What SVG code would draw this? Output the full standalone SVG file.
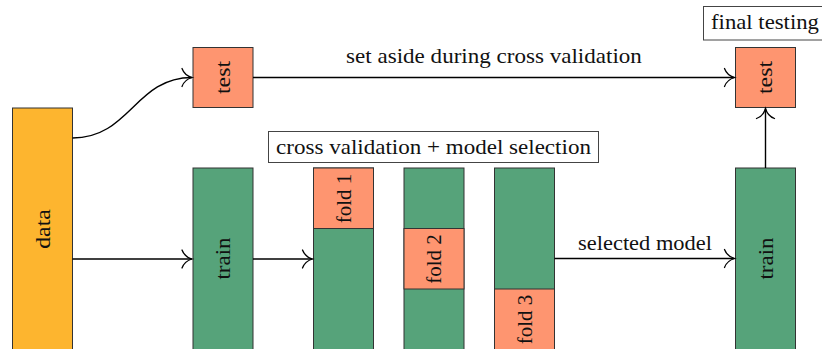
<svg xmlns="http://www.w3.org/2000/svg" width="822" height="349" viewBox="0 0 822 349">
  <defs>
    <!-- curved open arrow tip -->
    <marker id="to" markerUnits="userSpaceOnUse" markerWidth="24" markerHeight="24" viewBox="-14 -12 16 24" refX="0" refY="0" orient="auto">
      <path d="M -10 -9 C -8 -3.5 -3.5 -1 0 0 C -3.5 1 -8 3.5 -10 9" fill="none" stroke="#000" stroke-width="1.3" stroke-linecap="round"/>
    </marker>
  </defs>
  <style>
    .box { stroke: #333; stroke-width: 1; }
    .data { fill: #FDB52F; }
    .test { fill: #FE9570; }
    .train { fill: #56A37A; }
    .lbl { fill: #fff; stroke: #444; stroke-width: 1; }
    .edge { fill: none; stroke: #000; stroke-width: 1.4; marker-end: url(#to); }
    text { font-family: 'Liberation Serif', serif; font-size: 20px; fill: #111; }
    .mid { text-anchor: middle; }
  </style>

  <g id="data">
    <rect class="box data" x="12.5" y="108" width="60" height="242"/>
    <text class="mid" transform="translate(49.5 229) rotate(-90) scale(1.186 1)">data</text>
  </g>

  <g id="test-split">
    <rect class="box test" x="193" y="47.5" width="60" height="60"/>
    <text class="mid" transform="translate(229.5 77.5) rotate(-90) scale(1.188 1)">test</text>
  </g>

  <g id="train-split">
    <rect class="box train" x="193" y="168" width="60" height="182"/>
    <text class="mid" transform="translate(230 258.5) rotate(-90) scale(1.146 1)">train</text>
  </g>

  <g id="cv-label">
    <rect class="lbl" x="268.5" y="131.5" width="330" height="31"/>
    <text class="mid" transform="translate(433.5 153.5) scale(1.152 1)">cross validation + model selection</text>
  </g>

  <g id="fold1">
    <rect class="box train" x="313.5" y="168" width="60" height="182"/>
    <rect class="box test" x="313.5" y="168" width="60" height="60.5"/>
    <text class="mid" transform="translate(350.5 198.5) rotate(-90) scale(1.05 1)">fold 1</text>
  </g>

  <g id="fold2">
    <rect class="box train" x="404" y="168" width="60" height="182"/>
    <rect class="box test" x="404" y="228.5" width="60" height="60.5"/>
    <text class="mid" transform="translate(441 259) rotate(-90) scale(1.05 1)">fold 2</text>
  </g>

  <g id="fold3">
    <rect class="box train" x="494.5" y="168" width="60" height="182"/>
    <rect class="box test" x="494.5" y="289" width="60" height="61"/>
    <text class="mid" transform="translate(531.5 319.5) rotate(-90) scale(1.05 1)">fold 3</text>
  </g>

  <g id="train-final">
    <rect class="box train" x="735.5" y="168" width="60" height="182"/>
    <text class="mid" transform="translate(772.5 258.5) rotate(-90) scale(1.146 1)">train</text>
  </g>

  <g id="test-final">
    <rect class="box test" x="735.5" y="47.5" width="60" height="60"/>
    <text class="mid" transform="translate(772 77.5) rotate(-90) scale(1.188 1)">test</text>
  </g>

  <g id="final-label">
    <rect class="lbl" x="703.5" y="6.5" width="125" height="33.5"/>
    <text transform="translate(711 29) scale(1.137 1)">final testing</text>
  </g>

  <g id="connectors">
    <path class="edge" d="M 72.5 138 C 130 138 135 77.5 192 77.5"/>
    <path class="edge" d="M 72.5 259 L 192 259"/>
    <path class="edge" d="M 253 259 L 312.5 259"/>
    <path class="edge" d="M 253 77.5 L 734.5 77.5"/>
    <path class="edge" d="M 554.5 258.5 L 734.5 258.5"/>
    <path class="edge" d="M 765.5 168 L 765.5 108.5"/>
    <text class="mid" transform="translate(494 62.5) scale(1.153 1)">set aside during cross validation</text>
    <text class="mid" transform="translate(645 250) scale(1.122 1)">selected model</text>
  </g>
</svg>
